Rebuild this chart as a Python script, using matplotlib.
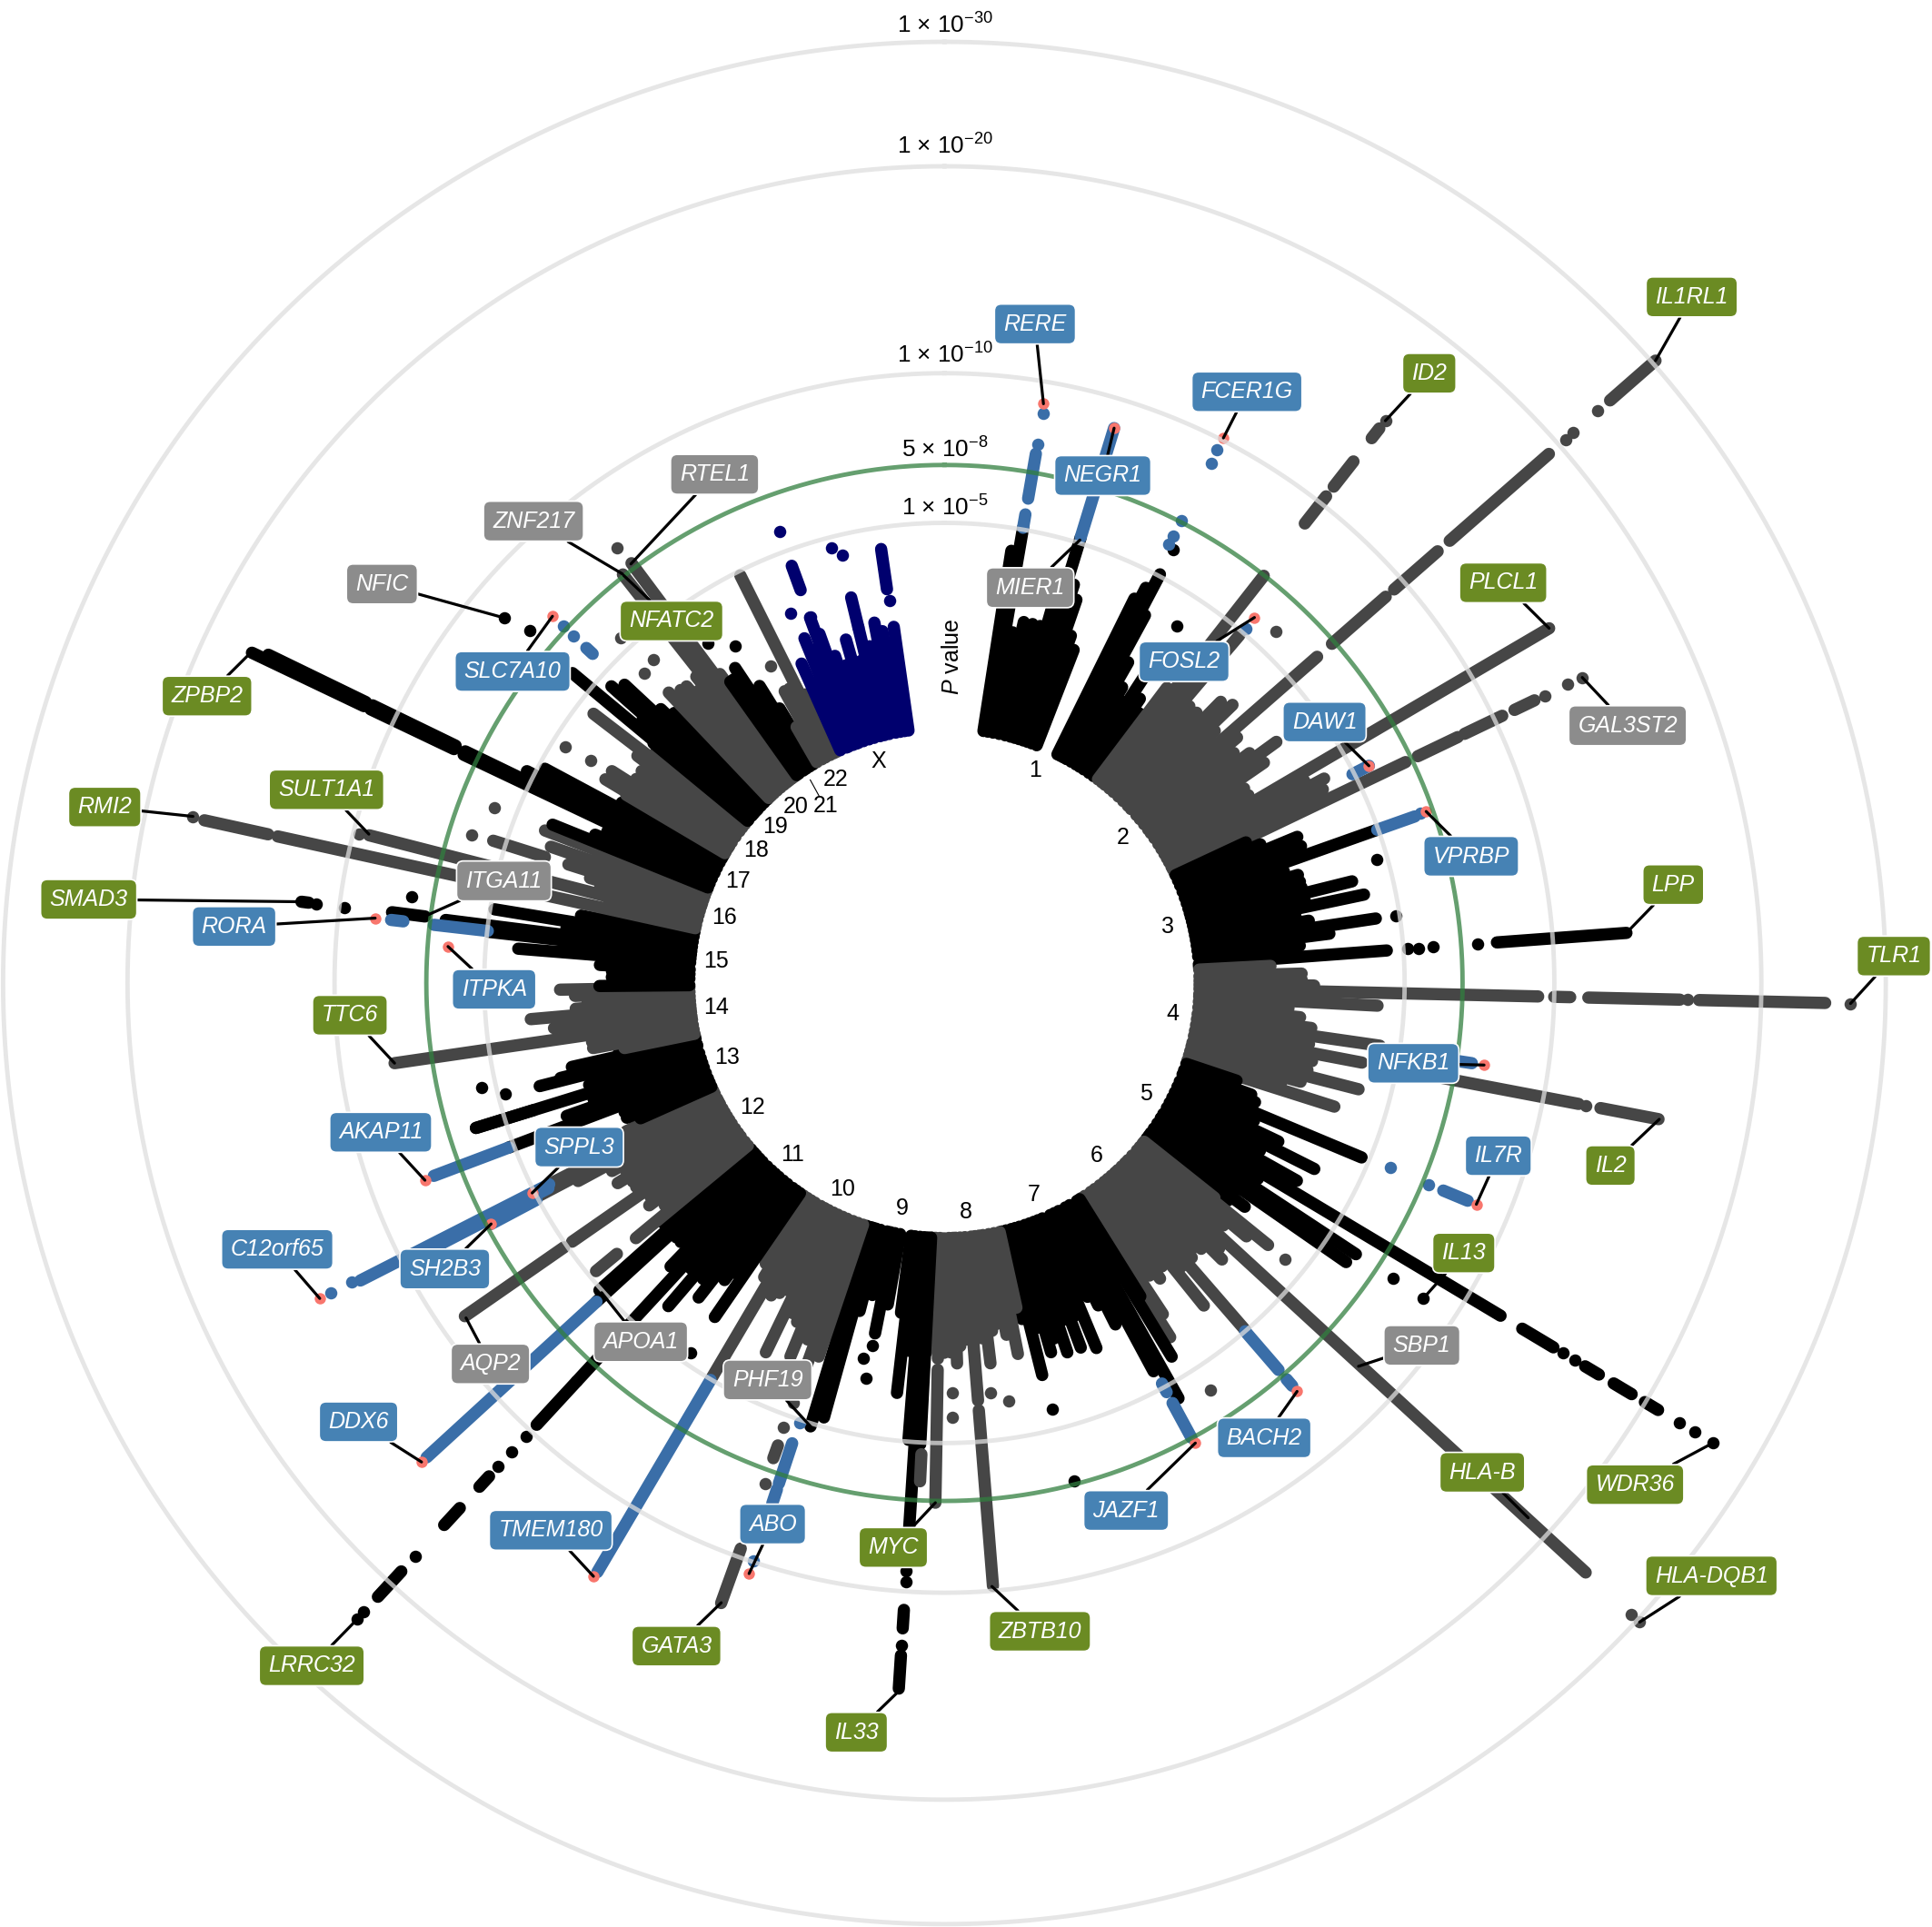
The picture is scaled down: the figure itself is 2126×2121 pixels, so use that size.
import numpy as np
import matplotlib
matplotlib.use("Agg")
import matplotlib.pyplot as plt

plt.rcParams['font.family'] = ['Liberation Sans', 'DejaVu Sans']
plt.rcParams['mathtext.fontset'] = 'custom'
plt.rcParams['mathtext.rm'] = 'Liberation Sans'
plt.rcParams['mathtext.it'] = 'Liberation Sans:italic'
plt.rcParams['mathtext.default'] = 'regular'

# ---------- radial scale: plotted score of each P value ring ----------
RING_SCORE = [373.5, 420.5, 495, 663, 764]
RING_TEXT = ['1 × 10$^{-5}$', '5 × 10$^{-8}$', '1 × 10$^{-10}$', '1 × 10$^{-20}$', '1 × 10$^{-30}$']
BASE_SCORE = 207

# ---------- per chromosome peaks: genome angle (deg) and top score ----------
chr1_pos = [8.8, 9.8, 11, 12.4, 13.8, 15, 16, 17, 18, 19, 20, 21.2,
            26.3, 27, 27.8, 28.6, 29.8, 31, 32, 33.1, 34.5, 35.8]
chr1_top = [355, 375, 290, 300, 300, 300, 330, 378, 340, 329, 300, 290,
            348, 360, 375, 340, 300, 280, 270, 300, 280, 270]
chr2_pos = [37, 38.1, 39, 40.3, 41.5, 43, 44.5, 46, 47, 48.8, 50, 51.5, 53, 54, 55.4, 57,
            58.3, 59.6, 60.7, 61.7, 62.9, 63.5, 64.4]
chr2_top = [300, 420, 320, 370, 300, 300, 320, 325, 300, 402, 310, 300, 310, 333, 315, 290,
            290, 569, 335, 350, 345, 285, 415]
chr3_pos = [65, 66.3, 67.5, 69, 70.5, 71.8, 73, 74.1, 75, 76, 77, 78.1, 79.2, 80.3, 81.5,
            82.7, 84, 85.8, 86.4]
chr3_top = [270, 280, 310, 310, 372, 290, 300, 300, 300, 341, 300, 348, 290, 300, 354,
            315, 290, 360, 260]
chr4_pos = [87, 88.5, 89.5, 90.4, 91.3, 92.5, 93, 94.2, 95.5, 97, 98.2, 99.5, 100.8, 102,
            103.5, 104.4, 105.5, 106.5, 107.6]
chr4_top = [265, 290, 290, 300, 482, 300, 352, 280, 290, 300, 357, 300, 345, 305,
            303, 347, 300, 285, 332]
chr5_pos = [108.5, 110, 111, 112.7, 114, 115.4, 116.7, 118, 119.3, 120.9, 122, 123.4, 124.8,
            126, 126.7, 127.5]
chr5_top = [250, 265, 270, 367, 275, 300, 336, 290, 328, 526, 300, 400, 397, 290, 304, 290]
chr6_pos = [128.5, 129, 130, 131, 132.6, 134, 134.9, 136, 137.2, 138, 139.1, 140.2, 141.2,
            142.5, 143.9, 145, 146.6, 147.5]
chr6_top = [280, 338, 320, 300, 707, 310, 318, 300, 295, 300, 373, 300, 336,
            290, 297, 290, 322, 341]
chr7_pos = [148, 148.7, 150.6, 151.7, 153.4, 154.5, 155.5, 157.4, 158.5, 159.5, 160.5, 161.6,
            162.9, 163.9, 164.8, 166, 167]
chr7_top = [300, 355, 387, 358, 310, 290, 280, 321, 290, 316, 290, 316,
            302, 312, 290, 328, 280]
chr8_pos = [167.5, 168.8, 170, 171.3, 172.2, 173.1, 174, 175.4, 176.5, 177.5, 178.1, 179, 180,
            181, 182, 182.8]
chr8_top = [270, 307, 290, 280, 285, 311, 290, 340, 290, 295, 309, 300, 300,
            305, 290, 300]
chr9_pos = [183, 183.7, 184.5, 185.5, 186.6, 187.5, 190, 191.2, 192.2, 193, 194.5, 195.5,
            196.2, 196.8, 197.7]
chr9_top = [375, 466, 372, 300, 335, 270, 265, 290, 255, 260, 275, 366, 360, 376, 300]
chr10_pos = [198.6, 199.8, 201, 202.4, 203.5, 204.7, 205.8, 207, 208, 209, 210.5, 211.5, 212.5,
             213.5]
chr10_top = [320, 330, 310, 328, 300, 295, 333, 280, 285, 290, 374, 280, 270, 265]
chr11_pos = [214.5, 215.5, 216.5, 218, 219.2, 220.5, 221.6, 222.7, 224, 225.5, 226.5, 227.5,
             228.3, 229.3]
chr11_top = [329, 290, 300, 324, 310, 345, 310, 440, 320, 300, 300, 383, 375, 300]
chr12_pos = [230.4, 231.5, 233, 234, 235.2, 236.5, 237.5, 238.5, 239.5, 240.5, 241.6, 242.3, 243,
             244.2, 245]
chr12_top = [325, 290, 300, 295, 368, 300, 300, 311, 300, 310, 338, 375, 355, 292, 285]
chr13_pos = [246, 247, 248, 249.3, 250.6, 251.7, 252.8, 254, 255.7, 256.1, 257.3, 258]
chr13_top = [270, 280, 280, 378, 325, 300, 398, 300, 339, 321, 310, 270]
chr14_pos = [258.5, 259.5, 260.5, 261.7, 262.5, 263.4, 264.2, 265, 266, 267, 268, 269]
chr14_top = [265, 290, 290, 451, 290, 319, 300, 337, 300, 290, 300, 312]
chr15_pos = [269.5, 271, 272, 273, 274.6, 275.5, 276.4, 277.2, 278.2, 279.3, 280.5, 281.5]
chr15_top = [280, 270, 270, 280, 347, 310, 372, 408, 310, 370, 300, 270]
chr16_pos = [282.4, 283.2, 284.4, 285.5, 286.5, 287.5, 288.2, 289.1, 290, 290.9, 291.5]
chr16_top = [554, 280, 482, 290, 300, 320, 315, 338, 300, 347, 290]
chr17_pos = [292, 293, 294.2, 295.4, 295.8, 296.9, 298.2, 299.2, 300]
chr17_top = [343, 308, 300, 432, 432, 380, 368, 300, 280]
chr18_pos = [300.6, 301, 301.9, 302.5, 303.5, 305, 306.5, 307.5, 308.5]
chr18_top = [300, 321, 300, 320, 300, 300, 310, 359, 300]
chr19_pos = [309.5, 309.8, 311, 311.7, 312.5, 313, 314, 315, 316]
chr19_top = [306, 393, 325, 362, 320, 355, 320, 310, 290]
chr20_pos = [316.5, 317.2, 318, 319, 320, 321, 321.8, 322.5, 323.3, 324]
chr20_top = [325, 300, 320, 319, 310, 320, 422, 350, 425, 310]
chr21_pos = [324.6, 325.2, 326.4, 327.2, 328.1, 329]
chr21_top = [300, 300, 307, 270, 284, 260]
chr22_pos = [330, 331.3, 332.2, 333.4, 334.3, 335]
chr22_top = [240, 270, 270, 370, 260, 245]
chrX_pos = [335.9, 337.4, 337.9, 339, 339.8, 340.3, 341.5, 342.8, 344, 345.4, 346.4, 347.5, 349,
            350, 351, 351.9]
chrX_top = [284, 260, 302, 290, 316, 301, 280, 270, 290, 270, 297, 280, 298, 290, 280, 292]

CHROM_NAMES = ['1', '2', '3', '4', '5', '6', '7', '8', '9', '10', '11', '12', '13', '14', '15',
               '16', '17', '18', '19', '20', '21', '22', 'X']
CHROM_POS = [chr1_pos, chr2_pos, chr3_pos, chr4_pos, chr5_pos, chr6_pos, chr7_pos, chr8_pos,
             chr9_pos, chr10_pos, chr11_pos, chr12_pos, chr13_pos, chr14_pos, chr15_pos,
             chr16_pos, chr17_pos, chr18_pos, chr19_pos, chr20_pos, chr21_pos, chr22_pos, chrX_pos]
CHROM_TOP = [chr1_top, chr2_top, chr3_top, chr4_top, chr5_top, chr6_top, chr7_top, chr8_top,
             chr9_top, chr10_top, chr11_top, chr12_top, chr13_top, chr14_top, chr15_top,
             chr16_top, chr17_top, chr18_top, chr19_top, chr20_top, chr21_top, chr22_top, chrX_top]

# ---------- runs of SNPs detached from the base: (angle, low score, high score) ----------
runs_odd = [(85.8, 449.6, 555), (120.9, 546.5, 576), (120.9, 606, 619), (120.9, 633, 650),
            (120.9, 662.5, 675), (183.7, 510, 525), (183.7, 547, 574), (222.7, 440, 488),
            (222.7, 545, 556.5), (222.7, 580, 598.7), (222.7, 650, 678), (277.3, 425, 452),
            (277.2, 520, 526), (295.5, 441, 516), (295.5, 522, 622.7), (295.9, 441, 516),
            (295.9, 522, 610), (252.8, 349, 398)]
runs_even = [(38.1, 474, 502), (38.1, 512, 538), (38.1, 562, 572), (48.8, 418, 476),
             (48.8, 485, 532), (48.8, 545, 652), (48.8, 718, 767), (64.4, 426, 462),
             (64.4, 468, 502), (64.4, 513, 531), (91.3, 495, 508), (91.3, 522.7, 597),
             (91.3, 612.6, 715), (100.8, 405, 524), (100.8, 542, 590), (175.4, 348, 491),
             (181, 314, 422), (182.8, 383, 405), (199.8, 399, 410), (199.8, 488, 535),
             (230.4, 345, 367), (235.2, 376, 474), (287.5, 340, 384), (282.4, 562, 615)]
runs_hit = [(9.8, 375, 386), (9.8, 399, 436), (17, 378, 471), (62.9, 372, 387), (70.5, 372.6, 405),
            (98.65, 410, 433), (112.6, 438.5, 460), (139.2, 373.5, 415), (139.2, 425, 432),
            (151.5, 370, 378), (151.5, 388, 420), (198.3, 393.6, 428), (198.3, 433, 445),
            (210.5, 374, 555), (227.5, 383, 570), (242, 375, 417), (243, 360, 532),
            (242.6, 362, 470), (249.3, 377.8, 443), (276.5, 373, 417), (276.5, 442, 452),
            (313.1, 391, 398)]
runs_x = [(339.9, 339.6, 360.6), (351.7, 323, 356), (346.4, 297, 322)]

# ---------- isolated SNPs: (angle, score) ----------
snps_odd = [(27.8, 398), (33.1, 346), (74.1, 365), (81.5, 370.6), (85.8, 377), (85.8, 386),
            (85.8, 398), (85.8, 434), (120.9, 585), (120.9, 596), (120.9, 695), (120.9, 710),
            (120.9, 727), (123.4, 436), (123.4, 465.4), (165.4, 417.7), (165.8, 356.8),
            (183.7, 478), (183.7, 487), (183.7, 539), (191.3, 300), (192.2, 312), (191.2, 327),
            (214.5, 364), (222.7, 501), (222.7, 518), (222.7, 534), (222.7, 633), (222.7, 695),
            (222.7, 703), (255.8, 368), (257.3, 384.7), (277.2, 490.6), (277.2, 514),
            (279.2, 438), (310.4, 442), (309.7, 463.8), (325.2, 336), (328.1, 322)]
snps_even = [(38.1, 580), (48.8, 670), (48.8, 678), (48.8, 705), (43.3, 392.6), (64.4, 540),
             (64.4, 561), (64.4, 574), (91.3, 603), (91.3, 735.6), (100.8, 530), (129, 356),
             (146.9, 394.8), (132.6, 757), (132.6, 766.5), (171.3, 343.5), (173.6, 335),
             (178.9, 333), (179, 353), (199.8, 362), (199.9, 384), (199.7, 432), (287.4, 402.5),
             (291.3, 392), (284.3, 490.7), (282.5, 624.7), (301.9, 362.5), (302.2, 339),
             (316.8, 384), (318, 353), (315.9, 350), (323, 442), (331.3, 293)]
snps_hit = [(9.8, 444), (9.8, 469), (27.1, 400), (27.1, 407.6), (27.1, 422), (27.2, 474),
            (27.1, 486), (40.4, 378), (70.4, 410), (112.5, 391.5), (112.6, 425.8), (198.3, 494),
            (198.2, 375.6), (243.2, 539), (243.2, 557.8), (313.1, 412), (313.1, 423.7)]
snps_x = [(339.9, 390), (345.4, 364.7), (346.6, 356.8), (337.4, 325), (339.9, 316.5),
          (351.8, 313.7)]

# ---------- annotated loci ----------
GENES_NOVEL = ['RERE', 'FCER1G', 'NEGR1', 'FOSL2', 'DAW1', 'VPRBP', 'NFKB1', 'IL7R', 'BACH2', 'JAZF1',
               'ABO', 'TMEM180', 'DDX6', 'SH2B3', 'C12orf65', 'AKAP11', 'SPPL3', 'ITPKA', 'RORA',
               'SLC7A10']
NOVEL_POS = [9.7, 27.1, 17, 40.3, 62.9, 70.4, 98.65, 112.6, 139.2, 151.4, 198.3, 210.6, 227.5, 242,
             243.2, 249.2, 243, 274.2, 276.5, 313.1]
NOVEL_TOP = [477, 497, 471, 389, 387, 415, 443, 467.6, 438, 425.4, 505, 559.6, 575.6, 416.7,
             568, 451, 375.5, 404, 465, 435.7]
GENES_KNOWN = ['ID2', 'IL1RL1', 'PLCL1', 'LPP', 'TLR1', 'IL2', 'IL13', 'HLA-B', 'WDR36', 'HLA-DQB1',
               'ZBTB10', 'MYC', 'IL33', 'GATA3', 'LRRC32', 'TTC6', 'SMAD3', 'SULT1A1', 'RMI2', 'ZPBP2',
               'NFATC2']
KNOWN_POS = [38.1, 48.8, 59.6, 85.8, 91.3, 100.8, 123.4, 132.5, 120.9, 132.6,
             175.5, 181, 183.5, 199.8, 222.7, 261.7, 277.2, 284.5, 282.5, 295.7, 321.8]
KNOWN_TOP = [580, 767, 569, 555, 735.6, 590.6, 465.4, 642.6, 727, 766.5,
             491.4, 422, 574, 534.7, 703, 451, 526, 482.5, 624.7, 622.7, 421]
GENES_OTHER = ['MIER1', 'GAL3ST2', 'SBP1', 'PHF19', 'APOA1', 'AQP2', 'ZNF217', 'RTEL1', 'NFIC', 'ITGA11']
OTHER_POS = [17, 64.4, 132.8, 196.8, 227.9, 235, 321.8, 323.2, 309.7, 277.5]
OTHER_TOP = [376, 574, 458, 376, 375, 474, 422.5, 424.8, 463.8, 423]

# ---------- layout (reference px at 1568 x 1564) ----------
W, H = 1568.0, 1564.0
CX, CY = 766.5, 797.8
RMAX = 900.0
LABEL_XY = {
    'RERE': (840, 263), 'FCER1G': (1012, 318), 'ID2': (1160, 303), 'IL1RL1': (1373, 241),
    'NEGR1': (895, 386), 'MIER1': (836, 477), 'FOSL2': (961, 537), 'PLCL1': (1220, 473),
    'GAL3ST2': (1321, 589), 'DAW1': (1075, 586), 'VPRBP': (1194, 695), 'LPP': (1358, 718),
    'TLR1': (1537, 776), 'NFKB1': (1147, 863), 'IL2': (1307, 946), 'IL7R': (1216, 938),
    'IL13': (1188, 1017), 'SBP1': (1154, 1092), 'HLA-B': (1203, 1195), 'WDR36': (1327, 1205),
    'HLA-DQB1': (1389, 1279), 'BACH2': (1026, 1167), 'JAZF1': (914, 1226), 'ZBTB10': (844, 1324),
    'MYC': (725, 1256), 'IL33': (695, 1406), 'ABO': (627, 1237), 'GATA3': (549, 1336),
    'PHF19': (623, 1120), 'TMEM180': (447, 1242), 'APOA1': (520, 1089), 'AQP2': (398, 1107),
    'DDX6': (291, 1154), 'LRRC32': (253, 1352), 'SH2B3': (361, 1030), 'C12orf65': (225, 1014),
    'AKAP11': (309, 919), 'SPPL3': (470, 931), 'TTC6': (284, 824), 'ITPKA': (401, 803),
    'RORA': (190, 752), 'SMAD3': (72, 730), 'ITGA11': (409, 715), 'SULT1A1': (265, 641),
    'RMI2': (85, 655), 'ZPBP2': (168, 565), 'SLC7A10': (416, 545), 'NFIC': (310, 474),
    'ZNF217': (433, 423), 'RTEL1': (580, 385), 'NFATC2': (545, 504)}
CHROM_LABEL_XY = [(840, 625), (911, 680), (948, 752), (952, 823), (930, 888), (890, 938), (839, 970),
                  (784, 984), (732, 981), (684, 965), (643, 937), (611, 899), (590, 858), (581, 818),
                  (581, 780), (588, 745), (599, 715), (614, 690), (629, 671), (646, 655), (670, 654),
                  (678, 633), (713, 618)]
RING_LABEL_Y = [412, 365, 288, 119, 21]
FS = 18
DOT_PX = 13.5
LW = DOT_PX * 72 / 100
DOT_S = LW ** 2


def frac(x, y):
    return x / W, 1 - y / H


fig = plt.figure(figsize=(21.26, 21.21), dpi=100, facecolor='white')
ax = fig.add_axes([(CX - RMAX) / W, (H - CY - RMAX) / H, 2 * RMAX / W, 2 * RMAX / H], projection='polar')
ax.set_theta_zero_location('N')
ax.set_theta_direction(-1)
ax.axis('off')

C_ODD, C_EVEN, C_HIT, C_X, C_TIP = '#000000', '#464646', '#3a6ea8', '#00006e', '#f8766d'


def draw_runs(runs, color, z=2):
    a = np.radians([t[0] for t in runs])
    ax.vlines(a, [t[1] for t in runs], [t[2] for t in runs], colors=color, linewidth=LW,
              capstyle='round', zorder=z)


def draw_snps(snps, color, z=2, s=DOT_S):
    ax.scatter(np.radians([t[0] for t in snps]), [t[1] for t in snps], s=s, color=color,
               linewidths=0, zorder=z)


for i, (name, pos, top) in enumerate(zip(CHROM_NAMES, CHROM_POS, CHROM_TOP)):
    col = C_X if name == 'X' else (C_ODD if i % 2 == 0 else C_EVEN)
    ax.vlines(np.radians(pos), BASE_SCORE, top, colors=col, linewidth=LW, capstyle='round', zorder=2)

draw_runs(runs_odd, C_ODD)
draw_runs(runs_even, C_EVEN)
draw_runs(runs_x, C_X)
draw_snps(snps_odd, C_ODD)
draw_snps(snps_even, C_EVEN)
draw_snps(snps_x, C_X)
draw_runs(runs_hit, C_HIT, z=2.2)
draw_snps(snps_hit, C_HIT, z=2.2)
ax.scatter(np.radians(NOVEL_POS), NOVEL_TOP, s=DOT_S * 0.85, color=C_TIP, linewidths=0, zorder=2.4)

# P value rings on top of the points
ring_theta = np.linspace(0, 2 * np.pi, 1441)
for score in RING_SCORE:
    green = score == 420.5
    ax.plot(ring_theta, np.full_like(ring_theta, score), color='#317f3f' if green else '#dedede',
            alpha=0.75, lw=3.5, zorder=3)

ax.set_ylim(0, RMAX)

# ring value labels, chromosome labels
for txt, y in zip(RING_TEXT, RING_LABEL_Y):
    fx, fy = frac(767, y)
    fig.text(fx, fy, txt, ha='center', va='center', fontsize=FS + 0.8, color='black')
for name, (x, y) in zip(CHROM_NAMES, CHROM_LABEL_XY):
    fx, fy = frac(x, y)
    fig.text(fx, fy, name, ha='center', va='center', fontsize=FS, color='black')
fx, fy = frac(773, 533)
fig.text(fx, fy, '$\\mathit{P}$ value', rotation=90, ha='center', va='center', fontsize=FS)
x0, y0 = frac(657.6, 633)
x1, y1 = frac(665, 646.5)
fig.add_artist(plt.Line2D([x0, x1], [y0, y1], color='black', lw=0.8, transform=fig.transFigure))


def annotate(genes, pos, top, face):
    for gene, p, r in zip(genes, pos, top):
        fx, fy = frac(*LABEL_XY[gene])
        ax.annotate(gene, xy=(np.radians(p), r), xycoords='data', xytext=(fx, fy),
                    textcoords='figure fraction', ha='center', va='center', fontsize=FS,
                    style='italic', color='white', zorder=6,
                    bbox=dict(boxstyle='round,pad=0.4,rounding_size=0.3', fc=face, ec='white', lw=1.2),
                    arrowprops=dict(arrowstyle='-', color='black', lw=2.3, shrinkA=0, shrinkB=0,
                                    relpos=(0.5, 0.5)))


annotate(GENES_OTHER, OTHER_POS, OTHER_TOP, '#8c8c8c')
annotate(GENES_KNOWN, KNOWN_POS, KNOWN_TOP, '#6b8b23')
annotate(GENES_NOVEL, NOVEL_POS, NOVEL_TOP, '#4682b4')

fig.savefig('out.png', dpi=100)
